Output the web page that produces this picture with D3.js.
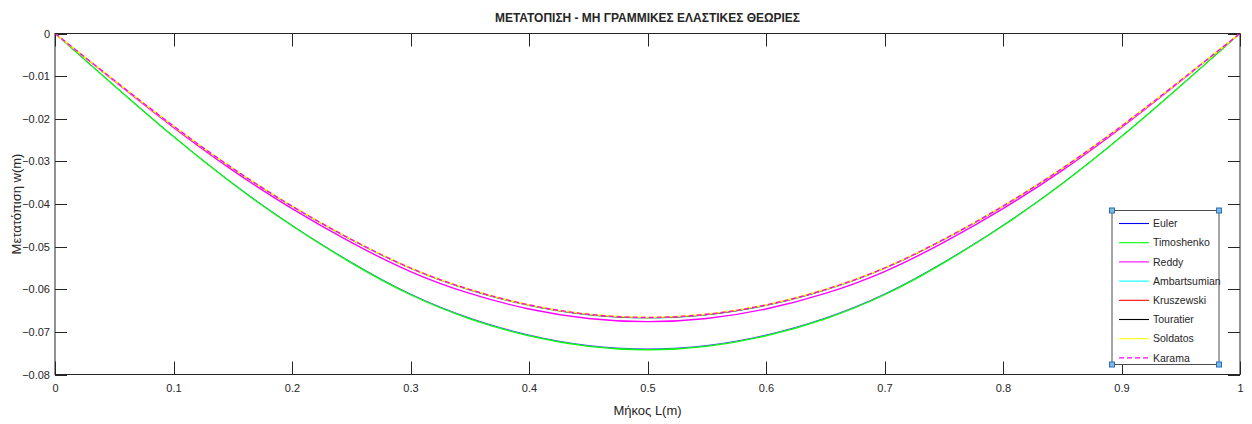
<!DOCTYPE html>
<html><head><meta charset="utf-8">
<script src="https://cdn.jsdelivr.net/npm/d3@7"></script>
<style>body{margin:0;background:#fff}svg{display:block}text{font-family:"Liberation Sans",Arial,sans-serif;fill:#262626}</style>
</head><body><svg id="c" width="1252" height="424"></svg>
<script>
const xValues = [0,0.05,0.1,0.15,0.2,0.25,0.3,0.35,0.4,0.45,0.5,0.55,0.6,0.65,0.7,0.75,0.8,0.85,0.9,0.95,1];
const euler = [0,-0.01221,-0.02412,-0.03515,-0.04499,-0.05365,-0.06112,-0.06675,-0.07074,-0.07319,-0.0740,-0.07319,-0.07074,-0.06675,-0.06112,-0.05365,-0.04499,-0.03515,-0.02412,-0.01221,0];
const timoshenko = [0,-0.01224,-0.02419,-0.03525,-0.04511,-0.05380,-0.06129,-0.06693,-0.07094,-0.07338,-0.0742,-0.07338,-0.07094,-0.06693,-0.06129,-0.05380,-0.04511,-0.03525,-0.02419,-0.01224,0];
const reddy = [0,-0.01115,-0.02204,-0.03211,-0.04110,-0.04901,-0.05584,-0.06098,-0.06463,-0.06686,-0.0676,-0.06686,-0.06463,-0.06098,-0.05584,-0.04901,-0.04110,-0.03211,-0.02204,-0.01115,0];
const ambartsumian = [0,-0.01102,-0.02178,-0.03173,-0.04061,-0.04843,-0.05518,-0.06025,-0.06386,-0.06606,-0.0668,-0.06606,-0.06386,-0.06025,-0.05518,-0.04843,-0.04061,-0.03173,-0.02178,-0.01102,0];
const kruszewski = [0,-0.01101,-0.02174,-0.03168,-0.04055,-0.04836,-0.05509,-0.06016,-0.06377,-0.06597,-0.0667,-0.06597,-0.06377,-0.06016,-0.05509,-0.04836,-0.04055,-0.03168,-0.02174,-0.01101,0];
const touratier = [0,-0.01101,-0.02174,-0.03168,-0.04055,-0.04836,-0.05509,-0.06016,-0.06377,-0.06597,-0.0667,-0.06597,-0.06377,-0.06016,-0.05509,-0.04836,-0.04055,-0.03168,-0.02174,-0.01101,0];
const soldatos = [0,-0.01099,-0.02171,-0.03164,-0.04049,-0.04829,-0.05501,-0.06007,-0.06367,-0.06587,-0.0666,-0.06587,-0.06367,-0.06007,-0.05501,-0.04829,-0.04049,-0.03164,-0.02171,-0.01099,0];
const karama = [0,-0.01099,-0.02171,-0.03164,-0.04049,-0.04829,-0.05501,-0.06007,-0.06367,-0.06587,-0.0666,-0.06587,-0.06367,-0.06007,-0.05501,-0.04829,-0.04049,-0.03164,-0.02171,-0.01099,0];
const seriesNames = ["Euler","Timoshenko","Reddy","Ambartsumian","Kruszewski","Touratier","Soldatos","Karama"];
const seriesValues = [euler,timoshenko,reddy,ambartsumian,kruszewski,touratier,soldatos,karama];
const seriesColors = ["#0000ff","#00ff00","#ff00ff","#00ffff","#ff0000","#000000","#ffff00","#ff00ff"];
const seriesDash = [null,null,null,null,null,null,null,"5,3"];
const seriesWidth = [0.7,1.3,1.4,0.6,0.6,0.6,1.5,1.3];
const xTicks = [0,0.1,0.2,0.3,0.4,0.5,0.6,0.7,0.8,0.9,1];
const yTicks = [0,-0.01,-0.02,-0.03,-0.04,-0.05,-0.06,-0.07,-0.08];
const titleText = "ΜΕΤΑΤΟΠΙΣΗ - ΜΗ ΓΡΑΜΜΙΚΕΣ ΕΛΑΣΤΙΚΕΣ ΘΕΩΡΙΕΣ";
const xLabel = "Μήκος L(m)";
const yLabel = "Μετατόπιση w(m)";

const svg = d3.select("#c");
const L = 55, R = 1240, T = 33.5, B = 374.5;
const x = d3.scaleLinear().domain([0,1]).range([L,R]);
const y = d3.scaleLinear().domain([-0.08,0]).range([B,T]);
const axc = "#262626";

// axes
const gx = svg.append("g").attr("transform",`translate(0,${B})`)
  .call(d3.axisBottom(x).tickValues(xTicks).tickSize(0).tickPadding(10).tickFormat(d3.format("")));
const gy = svg.append("g").attr("transform",`translate(${L},0)`)
  .call(d3.axisLeft(y).tickValues(yTicks).tickSize(0).tickPadding(5).tickFormat(d=>d===0?"0":d3.format(".2f")(d)));
[gx,gy].forEach(g=>{g.select(".domain").remove();g.selectAll("text").style("font-size","11px").style("fill",axc);});
gx.selectAll("text").attr("dy","0.71em");

// inward ticks
const tk = svg.append("g").attr("stroke",axc).attr("stroke-width",1);
xTicks.forEach(t=>{
  const px = Math.round(x(t))+0.5;
  tk.append("line").attr("x1",px).attr("x2",px).attr("y1",B).attr("y2",B-13);
  tk.append("line").attr("x1",px).attr("x2",px).attr("y1",T).attr("y2",T+13);
});
yTicks.forEach(t=>{
  const py = Math.round(y(t))+0.5;
  tk.append("line").attr("x1",L).attr("x2",L+12).attr("y1",py).attr("y2",py);
  tk.append("line").attr("x1",R).attr("x2",R-12).attr("y1",py).attr("y2",py);
});

// series
const line = d3.line().x((d,i)=>x(xValues[i])).y(d=>y(d)).curve(d3.curveNatural);
seriesValues.forEach((vals,i)=>{
  svg.append("path").datum(vals).attr("d",line).attr("fill","none")
    .attr("stroke",seriesColors[i]).attr("stroke-width",seriesWidth[i])
    .attr("stroke-dasharray",seriesDash[i]);
});

// box
svg.append("rect").attr("x",L).attr("y",T).attr("width",R-L).attr("height",B-T)
  .attr("fill","none").attr("stroke",axc).attr("stroke-width",1);

// title & labels
svg.append("text").attr("x",647.5).attr("y",22).attr("text-anchor","middle")
  .style("font-weight","bold").style("font-size","12px").attr("textLength",305).attr("lengthAdjust","spacingAndGlyphs").text(titleText);
svg.append("text").attr("x",647.5).attr("y",415).attr("text-anchor","middle")
  .style("font-size","13px").text(xLabel);
svg.append("text").attr("transform","translate(21,204) rotate(-90)").attr("text-anchor","middle")
  .style("font-size","13px").text(yLabel);

// legend
const lg = svg.append("g");
const lx0 = 1112, ly0 = 210.5, lx1 = 1219, ly1 = 364.5;
lg.append("rect").attr("x",lx0).attr("y",ly0).attr("width",lx1-lx0).attr("height",ly1-ly0)
  .attr("fill","#fff").attr("stroke","#4d4d4d").attr("stroke-width",1);
seriesNames.forEach((n,i)=>{
  const yy = 223.5 + i*19.2;
  lg.append("line").attr("x1",1119).attr("x2",1149).attr("y1",yy).attr("y2",yy)
    .attr("stroke",seriesColors[i]).attr("stroke-width",1.1).attr("stroke-dasharray",seriesDash[i]);
  lg.append("text").attr("x",1153).attr("y",yy).attr("dy","0.35em").style("font-size","10.5px").text(n);
});
[[lx0,ly0],[lx1,ly0],[lx0,ly1],[lx1,ly1]].forEach(([cx,cy])=>{
  lg.append("rect").attr("x",cx-2.5).attr("y",cy-2.5).attr("width",5).attr("height",5)
    .attr("fill","#7fb8e6").attr("stroke","#2a70b8").attr("stroke-width",1);
});
</script></body></html>
